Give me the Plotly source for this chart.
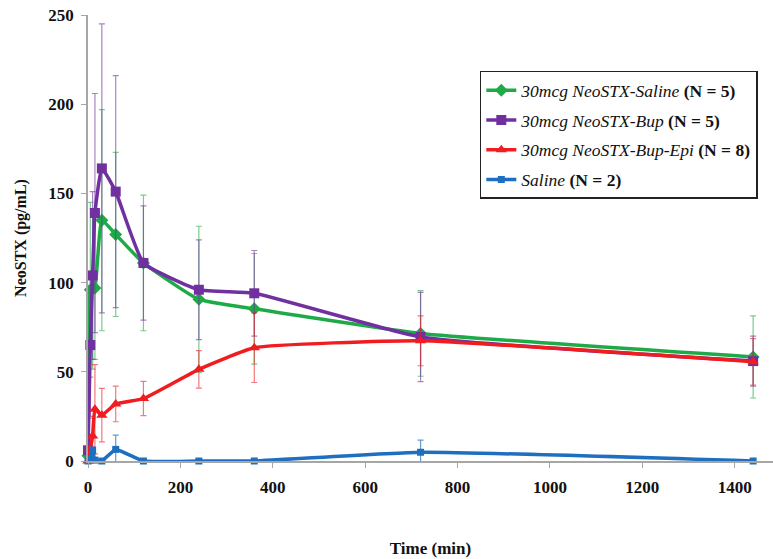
import plotly.graph_objects as go

times = [0, 5, 10, 15, 30, 60, 120, 240, 360, 720, 1440]

saline30_mean = [3, 96, 96.5, 97, 135, 127, 111, 90.6, 85.3, 71.5, 58.3]
saline30_sd = [2, 49, 45, 40, 62, 46, 38, 41, 31, 24, 23]

bup_mean = [6, 65, 104, 139, 164, 151, 111, 96, 94, 69.5, 56]
bup_sd = [3, 40, 47, 67, 81, 65, 32, 28, 24, 25, 14]

bupepi_mean = [0, 7, 14, 29, 25.7, 32, 35, 51.4, 63.5, 67.4, 55.6]
bupepi_sd = [1, 7, 10, 25, 15, 10, 9.6, 10.5, 19.5, 14, 13]

saline_mean = [0, 1, 6, 0.5, 0, 6.5, 0, 0, 0, 4.9, 0]
saline_sd = [0, 1, 2, 0.5, 0, 8, 0, 0, 0, 6.8, 0]

series = [
    ("<i>30mcg NeoSTX-Saline</i> <b>(N = 5)</b>", saline30_mean, saline30_sd,
     "#1FAA48", "rgba(31,170,72,0.6)", "diamond", 10),
    ("<i>30mcg NeoSTX-Bup</i> <b>(N = 5)</b>", bup_mean, bup_sd,
     "#7030A0", "rgba(112,48,160,0.6)", "square", 10),
    ("<i>30mcg NeoSTX-Bup-Epi</i> <b>(N = 8)</b>", bupepi_mean, bupepi_sd,
     "#F01C20", "rgba(240,28,32,0.6)", "triangle-up", 10),
    ("<i>Saline</i> <b>(N = 2)</b>", saline_mean, saline_sd,
     "#1F6FC0", "rgba(31,111,192,0.7)", "square", 7),
]

fig = go.Figure()
for i, (name, m, sd, col, ecol, sym, sz) in enumerate(series):
    fig.add_trace(go.Scatter(
        x=times, y=m, name=name, mode="lines+markers",
        legendgroup="g%d" % i,
        line=dict(color=col, width=3.5, shape="spline", smoothing=0.4),
        marker=dict(symbol=sym, size=sz, color=col),
        error_y=dict(type="data", array=sd, visible=True, color=ecol,
                     thickness=1.2, width=3),
        cliponaxis=False,
    ))

font_family = "Liberation Serif, Times New Roman, serif"

fig.update_layout(
    width=773, height=559,
    margin=dict(l=88, r=0, t=15, b=98),
    plot_bgcolor="white", paper_bgcolor="white",
    font=dict(family=font_family, color="black"),
    showlegend=True,
    legend=dict(
        x=0.572, y=0.875, xanchor="left", yanchor="top",
        bgcolor="white", bordercolor="#222222", borderwidth=1.5,
        font=dict(family=font_family, size=17.5, color="#111111"),
        itemwidth=30, tracegroupgap=4,
    ),
    xaxis=dict(
        range=[0, 1483], tickmode="array",
        tickvals=[0, 200, 400, 600, 800, 1000, 1200, 1400],
        ticktext=["<b>%d</b>" % v for v in [0, 200, 400, 600, 800, 1000, 1200, 1400]],
        showline=True, linecolor="#A6A6A6", linewidth=1.5,
        ticks="outside", ticklen=5, tickcolor="#A6A6A6",
        ticklabelstandoff=5,
        showgrid=False, zeroline=False,
        tickfont=dict(size=17, family=font_family, color="#111111"),
        title=dict(text="<b>Time (min)</b>", standoff=46,
                   font=dict(size=17, family=font_family, color="#111111")),
    ),
    yaxis=dict(
        range=[0, 250], tickmode="array",
        tickvals=[0, 50, 100, 150, 200, 250],
        ticktext=["<b>%d</b>" % v for v in [0, 50, 100, 150, 200, 250]],
        showline=True, linecolor="#A6A6A6", linewidth=1.5,
        ticks="outside", ticklen=5, tickcolor="#A6A6A6",
        ticklabelstandoff=4,
        showgrid=False, zeroline=False,
        tickfont=dict(size=17, family=font_family, color="#111111"),
        title=dict(text="<b>NeoSTX (pg/mL)</b>", standoff=18,
                   font=dict(size=16, family=font_family, color="#111111")),
    ),
)

fig.write_html("out.html")
